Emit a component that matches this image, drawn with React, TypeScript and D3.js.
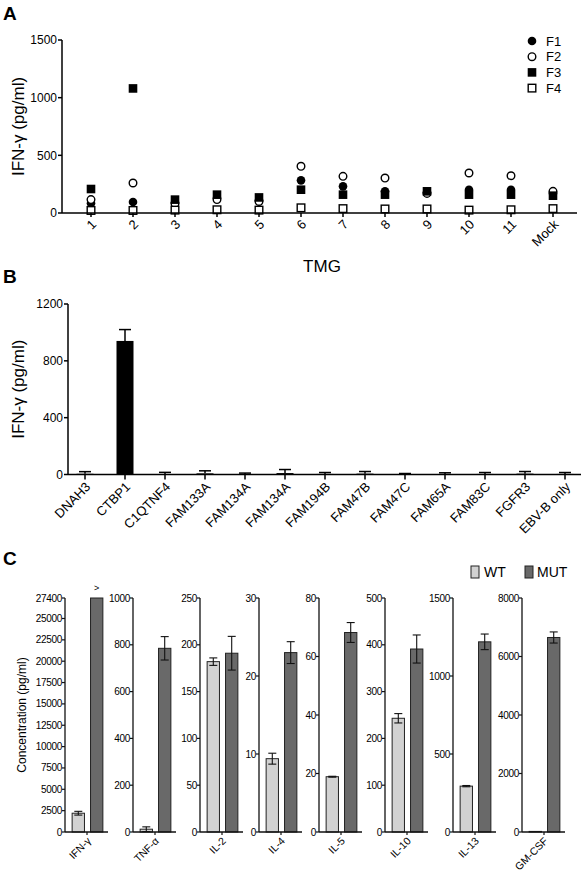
import React from "react";
import * as d3 from "d3";

// ---------- Panel A data ----------
const tmgCategories = ["1", "2", "3", "4", "5", "6", "7", "8", "9", "10", "11", "Mock"];
const f1Values = [85, 95, 90, 130, 110, 283, 231, 188, 180, 202, 202, 170];
const f2Values = [116, 260, 80, 116, 100, 405, 318, 303, 170, 347, 323, 188];
const f3Values = [208, 1080, 116, 159, 135, 202, 159, 159, 188, 159, 159, 150];
const f4Values = [22, 22, 25, 28, 25, 45, 38, 35, 35, 25, 28, 38];
const aTicks = [0, 500, 1000, 1500];
const aLegend = ["F1", "F2", "F3", "F4"];

// ---------- Panel B data ----------
const geneCategories = ["DNAH3", "CTBP1", "C1QTNF4", "FAM133A", "FAM134A", "FAM134A", "FAM194B", "FAM47B", "FAM47C", "FAM65A", "FAM83C", "FGFR3", "EBV-B only"];
const geneValues = [5, 940, 3, 8, 3, 10, 4, 6, 2, 3, 4, 6, 4];
const geneErrors = [15, 80, 12, 18, 7, 25, 10, 15, 5, 9, 10, 15, 10];
const bTicks = [0, 400, 800, 1200];

// ---------- Panel C data ----------
const cytokines = ["IFN-γ", "TNF-α", "IL-2", "IL-4", "IL-5", "IL-10", "IL-13", "GM-CSF"];
const cMax = [27400, 1000, 250, 30, 80, 500, 1500, 8000];
const cTicks = [
  [0, 2500, 5000, 7500, 10000, 12500, 15000, 17500, 20000, 22500, 25000, 27400],
  [0, 200, 400, 600, 800, 1000],
  [0, 50, 100, 150, 200, 250],
  [0, 10, 20, 30],
  [0, 20, 40, 60, 80],
  [0, 100, 200, 300, 400, 500],
  [0, 500, 1000, 1500],
  [0, 2000, 4000, 6000, 8000],
];
const wtValues = [2200, 12, 182, 9.4, 18.9, 243, 294, 20];
const wtErrors = [220, 10, 4, 0.7, 0.15, 10, 4, 0];
const mutValues = [27400, 785, 191, 23, 68.2, 391, 1219, 6650];
const mutErrors = [0, 50, 18, 1.4, 3.4, 30, 50, 190];
const groups = ["WT", "MUT"];

// ---------- layout ----------
const W = 585;
const H = 876;
const FONT = "'Liberation Sans', Arial, Helvetica, sans-serif";
const cAxisX = [65, 133, 200, 259, 319, 385, 453, 522];
const WT_FILL = "#d2d2d2";
const MUT_FILL = "#696969";

function PanelA() {
  const x = d3.scalePoint<string>().domain(tmgCategories).range([91, 553]);
  const y = d3.scaleLinear().domain([0, 1500]).range([213, 40]);
  const series = [f1Values, f2Values, f3Values, f4Values];
  const marker = (s: number, cx: number, cy: number, key: string) => {
    if (s === 0) return <circle key={key} cx={cx} cy={cy} r={4.3} fill="#000" />;
    if (s === 1) return <circle key={key} cx={cx} cy={cy} r={3.8} fill="#fff" stroke="#000" strokeWidth={1.4} />;
    if (s === 2) return <rect key={key} x={cx - 4.3} y={cy - 4.3} width={8.6} height={8.6} fill="#000" />;
    return <rect key={key} x={cx - 3.8} y={cy - 3.8} width={7.6} height={7.6} fill="#fff" stroke="#000" strokeWidth={1.4} />;
  };
  return (
    <g>
      <text x={3} y={20} fontSize={19} fontWeight="bold" fontFamily={FONT}>A</text>
      <line x1={62} x2={62} y1={y(1500)} y2={y(0)} stroke="#000" strokeWidth={1.5} />
      {aTicks.map((t) => (
        <g key={t}>
          <line x1={58} x2={62} y1={y(t)} y2={y(t)} stroke="#000" strokeWidth={1.5} />
          <text x={57} y={y(t)} dy="0.35em" textAnchor="end" fontSize={12} fontFamily={FONT}>{t}</text>
        </g>
      ))}
      <text transform={`translate(24,${(y(0) + y(1500)) / 2}) rotate(-90)`} textAnchor="middle" fontSize={17} fontFamily={FONT}>IFN-γ (pg/ml)</text>
      {series.map((vals, s) => vals.map((v, i) => marker(s, x(tmgCategories[i])!, y(v), `${s}-${i}`)))}
      <line x1={62} x2={577} y1={y(0)} y2={y(0)} stroke="#000" strokeWidth={1.5} />
      {tmgCategories.map((c) => (
        <g key={c} transform={`translate(${x(c)},${y(0)})`}>
          <line y1={0} y2={4} stroke="#000" strokeWidth={1.5} />
          <text transform="translate(3,9) rotate(-45)" textAnchor="end" dy="0.35em" fontSize={13} fontFamily={FONT}>{c}</text>
        </g>
      ))}
      <text x={322} y={272} textAnchor="middle" fontSize={17} fontFamily={FONT}>TMG</text>
      {aLegend.map((l, s) => (
        <g key={l}>
          {marker(s, 532, 41 + s * 15.7, `lg${s}`)}
          <text x={546} y={41 + s * 15.7} dy="0.35em" fontSize={13} fontFamily={FONT}>{l}</text>
        </g>
      ))}
    </g>
  );
}

function PanelB() {
  const idx = geneCategories.map((_, i) => String(i));
  const x = d3.scalePoint<string>().domain(idx).range([85, 565]);
  const y = d3.scaleLinear().domain([0, 1200]).range([474.5, 304]);
  const bw = 17;
  return (
    <g>
      <text x={3} y={283} fontSize={19} fontWeight="bold" fontFamily={FONT}>B</text>
      <line x1={68} x2={68} y1={y(1200)} y2={y(0)} stroke="#000" strokeWidth={1.5} />
      {bTicks.map((t) => (
        <g key={t}>
          <line x1={64} x2={68} y1={y(t)} y2={y(t)} stroke="#000" strokeWidth={1.5} />
          <text x={63} y={y(t)} dy="0.35em" textAnchor="end" fontSize={12} fontFamily={FONT}>{t}</text>
        </g>
      ))}
      <text transform={`translate(24,${(y(0) + y(1200)) / 2}) rotate(-90)`} textAnchor="middle" fontSize={17} fontFamily={FONT}>IFN-γ (pg/ml)</text>
      {geneValues.map((v, i) => {
        const cx = x(String(i))!;
        const top = y(v);
        const et = y(v + geneErrors[i]);
        return (
          <g key={i}>
            <rect x={cx - bw / 2} y={top} width={bw} height={y(0) - top} fill="#000" />
            <line x1={cx} x2={cx} y1={top} y2={et} stroke="#000" strokeWidth={1.5} />
            <line x1={cx - 6} x2={cx + 6} y1={et} y2={et} stroke="#000" strokeWidth={1.5} />
          </g>
        );
      })}
      <line x1={68} x2={581} y1={y(0)} y2={y(0)} stroke="#000" strokeWidth={1.5} />
      {geneCategories.map((c, i) => (
        <g key={i} transform={`translate(${x(String(i))},${y(0)})`}>
          <line y1={0} y2={5} stroke="#000" strokeWidth={1.5} />
          <text transform="translate(3,10) rotate(-45)" textAnchor="end" dy="0.35em" fontSize={13} fontFamily={FONT}>{c}</text>
        </g>
      ))}
    </g>
  );
}

function PanelC() {
  const y0 = 832;
  const yTop = 598;
  return (
    <g>
      <text x={3} y={565} fontSize={19} fontWeight="bold" fontFamily={FONT}>C</text>
      <text transform={`translate(26,${(y0 + yTop) / 2}) rotate(-90)`} textAnchor="middle" fontSize={12} fontFamily={FONT}>Concentration (pg/ml)</text>
      {cytokines.map((c, k) => {
        const ax = cAxisX[k];
        const y = d3.scaleLinear().domain([0, cMax[k]]).range([y0, yTop]);
        const xb = d3.scaleBand<string>().domain(groups).range([ax + 4, ax + 41]).paddingInner(0.33).paddingOuter(0.17);
        const vals = [wtValues[k], mutValues[k]];
        const errs = [wtErrors[k], mutErrors[k]];
        const fills = [WT_FILL, MUT_FILL];
        return (
          <g key={c}>
            {groups.map((g, j) => {
              const bx = xb(g)!;
              const bwid = xb.bandwidth();
              const top = y(vals[j]);
              const cx = bx + bwid / 2;
              const e = errs[j];
              return (
                <g key={g}>
                  <rect x={bx} y={top} width={bwid} height={y0 - top} fill={fills[j]} stroke="#222" strokeWidth={1} />
                  {e > 0 && (
                    <g stroke="#111" strokeWidth={1.1}>
                      <line x1={cx} x2={cx} y1={y(vals[j] + e)} y2={y(Math.max(0, vals[j] - e))} />
                      <line x1={cx - 4} x2={cx + 4} y1={y(vals[j] + e)} y2={y(vals[j] + e)} />
                      <line x1={cx - 4} x2={cx + 4} y1={y(Math.max(0, vals[j] - e))} y2={y(Math.max(0, vals[j] - e))} />
                    </g>
                  )}
                </g>
              );
            })}
            <line x1={ax} x2={ax} y1={yTop} y2={y0} stroke="#111" strokeWidth={1.3} />
            {cTicks[k].map((t) => (
              <g key={t}>
                <line x1={ax - 3} x2={ax} y1={y(t)} y2={y(t)} stroke="#111" strokeWidth={1.2} />
                <text x={ax - 3} y={y(t)} dy="0.35em" textAnchor="end" fontSize={10} letterSpacing={-0.3} fontFamily={FONT}>{t}</text>
              </g>
            ))}
            <line x1={ax} x2={ax + 43} y1={y0} y2={y0} stroke="#111" strokeWidth={1.3} />
            <g transform={`translate(${ax + 22},${y0})`}>
              <line y1={0} y2={3} stroke="#111" strokeWidth={1.2} />
              <text transform="translate(2,7) rotate(-45)" textAnchor="end" dy="0.35em" fontSize={10.5} fontFamily={FONT}>{c}</text>
            </g>
            {k === 0 && (
              <text x={xb("MUT")! + xb.bandwidth() / 2} y={591} textAnchor="middle" fontSize={9} fontFamily={FONT}>&gt;</text>
            )}
          </g>
        );
      })}
      <rect x={471} y={566} width={8} height={12} fill={WT_FILL} stroke="#222" strokeWidth={1} />
      <text x={484} y={577} fontSize={14} fontFamily={FONT}>WT</text>
      <rect x={525} y={566} width={8} height={12} fill={MUT_FILL} stroke="#222" strokeWidth={1} />
      <text x={537} y={577} fontSize={14} fontFamily={FONT}>MUT</text>
    </g>
  );
}

export default function App() {
  return (
    <div style={{ position: "absolute", left: 0, top: 0 }}>
      <svg width={W} height={H} style={{ display: "block", background: "#fff" }}>
        <PanelA />
        <PanelB />
        <PanelC />
      </svg>
    </div>
  );
}
